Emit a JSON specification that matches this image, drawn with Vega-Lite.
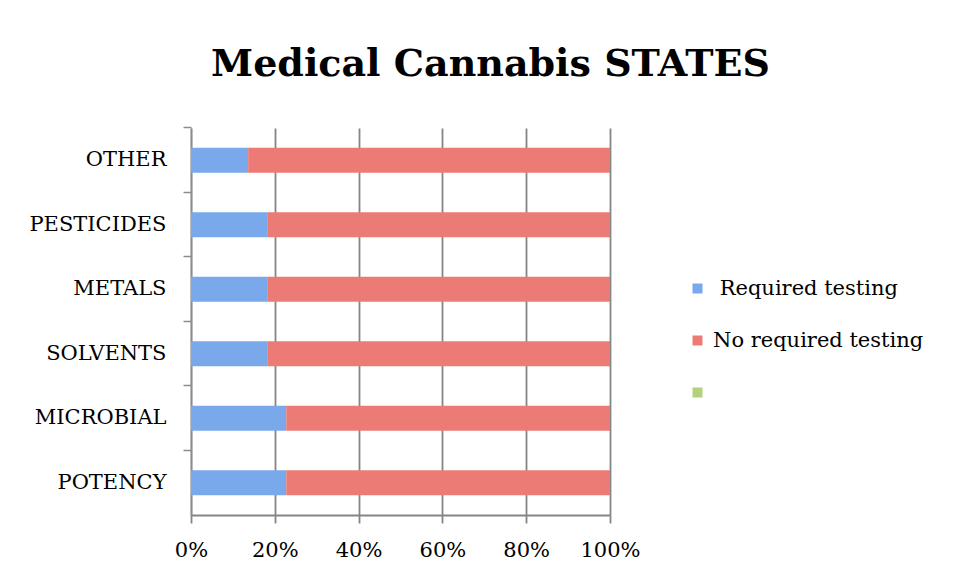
{
  "$schema": "https://vega.github.io/schema/vega-lite/v6.json",
  "width": 419,
  "height": 387,
  "autosize": "none",
  "padding": {"left": 191, "top": 128, "right": 343, "bottom": 62},
  "background": "white",
  "title": {
    "text": "Medical Cannabis STATES",
    "font": "DejaVu Serif",
    "fontSize": 38,
    "fontWeight": "bold",
    "color": "black",
    "anchor": "middle",
    "dx": 90,
    "offset": 42
  },
  "data": {
    "values": [
      {"category": "OTHER", "series": "Required testing", "value": 3},
      {"category": "OTHER", "series": "No required testing", "value": 19},
      {"category": "PESTICIDES", "series": "Required testing", "value": 4},
      {"category": "PESTICIDES", "series": "No required testing", "value": 18},
      {"category": "METALS", "series": "Required testing", "value": 4},
      {"category": "METALS", "series": "No required testing", "value": 18},
      {"category": "SOLVENTS", "series": "Required testing", "value": 4},
      {"category": "SOLVENTS", "series": "No required testing", "value": 18},
      {"category": "MICROBIAL", "series": "Required testing", "value": 5},
      {"category": "MICROBIAL", "series": "No required testing", "value": 17},
      {"category": "POTENCY", "series": "Required testing", "value": 5},
      {"category": "POTENCY", "series": "No required testing", "value": 17}
    ]
  },
  "mark": {"type": "bar"},
  "encoding": {
    "y": {
      "field": "category",
      "type": "nominal",
      "sort": ["OTHER", "PESTICIDES", "METALS", "SOLVENTS", "MICROBIAL", "POTENCY"],
      "scale": {"paddingInner": 0.612, "paddingOuter": 0.306},
      "axis": {
        "title": null,
        "grid": false,
        "bandPosition": -0.79,
        "tickSize": 8,
        "tickColor": "#8c8c8c",
        "tickWidth": 1.5,
        "domainColor": "#8c8c8c",
        "domainWidth": 1.5,
        "labelFont": "DejaVu Serif",
        "labelFontSize": 21,
        "labelColor": "black",
        "labelPadding": 17
      }
    },
    "x": {
      "field": "value",
      "type": "quantitative",
      "stack": "normalize",
      "scale": {"domain": [0, 1], "nice": false},
      "axis": {
        "title": null,
        "format": ".0%",
        "values": [0, 0.2, 0.4, 0.6, 0.8, 1],
        "grid": true,
        "gridColor": "#858585",
        "gridWidth": 1.8,
        "tickSize": 8,
        "tickColor": "#858585",
        "tickWidth": 1.8,
        "domainColor": "#858585",
        "domainWidth": 1.8,
        "labelFont": "DejaVu Serif",
        "labelFontSize": 21,
        "labelColor": "black",
        "labelPadding": 16,
        "labelFlush": false
      }
    },
    "color": {
      "field": "series",
      "type": "nominal",
      "scale": {
        "domain": ["Required testing", "No required testing", "Series3"],
        "range": ["#79a9ea", "#ec7b75", "#b3d37b"]
      },
      "legend": {
        "title": null,
        "orient": "none",
        "legendX": 496,
        "legendY": 150,
        "rowPadding": 30,
        "symbolType": "square",
        "symbolSize": 100,
        "symbolStrokeWidth": 0,
        "labelFont": "DejaVu Serif",
        "labelFontSize": 21,
        "labelColor": "black",
        "labelOffset": 5,
        "labelLimit": 400,
        "labelExpr": "datum.label == 'Series3' ? '' : (datum.label == 'Required testing' ? '\u200b\u00a0Required testing' : datum.label)"
      }
    },
    "order": {"field": "series", "sort": "descending"}
  },
  "config": {"view": {"stroke": null}}
}
